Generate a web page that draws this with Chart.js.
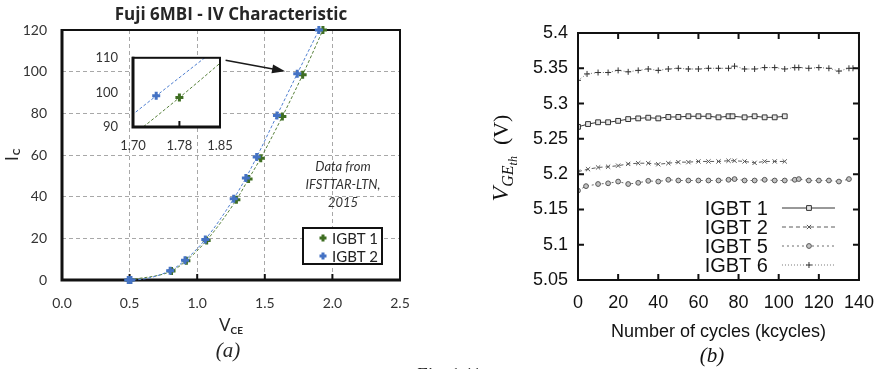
<!DOCTYPE html>
<html>
<head>
<meta charset="utf-8">
<script src="https://cdn.jsdelivr.net/npm/chart.js@4.4.1/dist/chart.umd.min.js"></script>
<style>
  html, body { margin: 0; padding: 0; background: #fff; }
  #page { position: relative; width: 886px; height: 369px; overflow: hidden; }
  canvas { position: absolute; }
  #ivChart { left: 0; top: 0; }
  #vthChart { left: 440px; top: 0; }
  #ivInset { left: 95px; top: 35px; }
  #figNote { position: absolute; left: 416px; top: 366px; font: italic 18px 'Liberation Serif', serif; line-height: 1; color: #222; }
</style>
</head>
<body>
<div id="page">
  <canvas id="ivChart" width="440" height="369"></canvas>
  <canvas id="vthChart" width="446" height="369"></canvas>
  <canvas id="ivInset" width="150" height="125"></canvas>
  <div id="figNote">Fig. 1.11</div>
</div>
<script>
// (a) Fuji 6MBI IV characteristic
const ivLabels = ['IGBT 1', 'IGBT 2'];
const ivVoltage1 = [0.50, 0.81, 0.92, 1.07, 1.29, 1.38, 1.47, 1.63, 1.78, 1.93];
const ivCurrent1 = [0, 4.3, 9.3, 19, 38.5, 48.5, 58.5, 78.5, 98.5, 120];
const ivVoltage2 = [0.49, 0.51, 0.80, 0.91, 1.06, 1.27, 1.36, 1.44, 1.59, 1.74, 1.90];
const ivCurrent2 = [0, 0, 4.5, 9.5, 19.5, 39, 49, 59, 79, 99, 120];
const insetTicksX = [1.70, 1.78, 1.85];
const insetTicksY = [90, 100, 110];
const noteLines = ['Data from', 'IFSTTAR-LTN,', '2015'];

// (b) threshold voltage vs cycles
const vthLabels = ['IGBT 1', 'IGBT 2', 'IGBT 5', 'IGBT 6'];
const cycles1 = [0, 5, 10, 15, 20, 25, 30, 35, 40, 45, 50, 55, 60, 65, 70, 75, 77, 83, 88, 93, 98, 103];
const vth1 = [5.267, 5.271, 5.2735, 5.2735, 5.2755, 5.278, 5.279, 5.280, 5.279, 5.281, 5.281, 5.282, 5.282, 5.282, 5.2805, 5.282, 5.282, 5.2805, 5.282, 5.2805, 5.2805, 5.282];
const cycles2 = [0, 5, 10, 15, 20, 25, 30, 35, 40, 45, 50, 55, 60, 65, 70, 75, 78, 83, 88, 93, 98, 103];
const vth2 = [5.2035, 5.207, 5.2095, 5.2105, 5.212, 5.2145, 5.2155, 5.2155, 5.214, 5.2155, 5.217, 5.217, 5.218, 5.218, 5.218, 5.219, 5.219, 5.218, 5.216, 5.218, 5.218, 5.218];
const cycles5 = [0, 4, 10, 15, 20, 25, 30, 35, 40, 45, 50, 55, 60, 65, 70, 75, 78, 83, 88, 93, 98, 103, 108, 110, 115, 120, 125, 130, 135];
const vth5 = [5.1767, 5.183, 5.186, 5.187, 5.1895, 5.186, 5.1877, 5.1905, 5.1895, 5.192, 5.191, 5.191, 5.191, 5.191, 5.191, 5.192, 5.193, 5.191, 5.191, 5.192, 5.191, 5.191, 5.192, 5.193, 5.191, 5.191, 5.191, 5.1895, 5.193];
const cycles6 = [0, 4.5, 10, 15, 20, 25, 30, 35, 40, 45, 50, 55, 60, 65, 70, 75, 78, 83, 88, 93, 98, 103, 108, 110, 115, 120, 125, 130, 135, 137];
const vth6 = [5.333, 5.342, 5.344, 5.344, 5.347, 5.345, 5.347, 5.349, 5.347, 5.349, 5.350, 5.349, 5.349, 5.350, 5.350, 5.350, 5.353, 5.349, 5.349, 5.351, 5.351, 5.349, 5.351, 5.351, 5.350, 5.351, 5.350, 5.346, 5.350, 5.350];

const pts = (xs, ys) => xs.map((x, i) => ({ x: x, y: ys[i] }));
const ivGreen = '#3f6e22', ivBlue = '#4472c4';
const lato = 'Lato, "Open Sans", sans-serif';
const serif = '"Liberation Serif", "DejaVu Serif", serif';
const sans = '"Liberation Sans", Arial, sans-serif';

function drawMark(ctx, style, x, y, r) {
    ctx.beginPath();
    if (style === 'rect') {
        const s = r * Math.SQRT1_2;
        ctx.rect(x - s, y - s, 2 * s, 2 * s);
        ctx.fill(); ctx.stroke();
    } else if (style === 'circle') {
        ctx.arc(x, y, r, 0, Math.PI * 2);
        ctx.fill(); ctx.stroke();
    } else if (style === 'cross') {
        ctx.moveTo(x - r, y); ctx.lineTo(x + r, y);
        ctx.moveTo(x, y - r); ctx.lineTo(x, y + r);
        ctx.stroke();
    } else {
        const d = r * Math.SQRT1_2;
        ctx.moveTo(x - d, y - d); ctx.lineTo(x + d, y + d);
        ctx.moveTo(x - d, y + d); ctx.lineTo(x + d, y - d);
        ctx.stroke();
    }
}

function ivDatasets(clip) {
    return [
        { label: ivLabels[0], data: pts(ivVoltage1, ivCurrent1), order: 1, clip: clip,
          borderColor: '#557f38', borderWidth: 1, borderDash: [3, 2], cubicInterpolationMode: 'monotone',
          pointStyle: 'cross', pointRadius: 4, pointBorderWidth: 3, pointBorderColor: ivGreen },
        { label: ivLabels[1], data: pts(ivVoltage2, ivCurrent2), order: 0, clip: clip,
          borderColor: '#4f7fd0', borderWidth: 1, borderDash: [3, 2], cubicInterpolationMode: 'monotone',
          pointStyle: 'cross', pointRadius: 4, pointBorderWidth: 3, pointBorderColor: ivBlue }
    ];
}

const ivDecor = {
    id: 'ivDecor',
    beforeDatasetsDraw(chart) {
        const { ctx, chartArea: a, scales: { x } } = chart;
        ctx.save();
        ctx.strokeStyle = '#111';
        ctx.lineWidth = 2;
        ctx.strokeRect(a.left, a.top, a.right - a.left, a.bottom - a.top);
        ctx.lineWidth = 3;
        ctx.beginPath();
        ctx.moveTo(a.left, a.top - 1); ctx.lineTo(a.left, a.bottom); ctx.lineTo(a.right + 1, a.bottom);
        ctx.stroke();
        ctx.lineWidth = 2;
        x.ticks.forEach(t => {
            const px = x.getPixelForValue(t.value);
            ctx.beginPath(); ctx.moveTo(px, a.bottom); ctx.lineTo(px, a.bottom - 6); ctx.stroke();
        });
        ctx.restore();
    },
    afterDraw(chart) {
        const { ctx, chartArea: a, scales: { x, y } } = chart;
        ctx.save();
        ctx.fillStyle = '#262626';
        ctx.textAlign = 'center';
        ctx.textBaseline = 'middle';
        ctx.font = 'bold 17px "Open Sans", Lato, sans-serif';
        ctx.fillText('Fuji 6MBI - IV Characteristic', (a.left + a.right) / 2, 15);

        // V_CE
        ctx.textAlign = 'left';
        ctx.font = '17px ' + lato;
        const wV = ctx.measureText('V').width;
        ctx.font = 'bold 10px ' + lato;
        const wCE = ctx.measureText('CE').width;
        let sx = (a.left + a.right) / 2 - (wV + wCE) / 2;
        ctx.font = '17px ' + lato;
        ctx.fillText('V', sx, 326);
        ctx.font = 'bold 10px ' + lato;
        ctx.fillText('CE', sx + wV, 331);

        // I_C
        ctx.save();
        ctx.translate(13, 155);
        ctx.rotate(-Math.PI / 2);
        ctx.font = '17px ' + lato;
        const wI = ctx.measureText('I').width;
        ctx.fillText('I', -6, 0);
        ctx.font = 'bold 10px ' + lato;
        ctx.fillText('C', -6 + wI + 1, 4);
        ctx.restore();

        ctx.textAlign = 'center';
        ctx.font = 'italic 21px ' + serif;
        ctx.fillText('(a)', 228, 351);

        // note
        ctx.font = 'italic 13px ' + lato;
        ctx.fillStyle = '#333';
        noteLines.forEach((t, i) => ctx.fillText(t, a.right - 57, 167 + i * 18));

        // arrow towards the zoomed region
        const x0 = x.getPixelForValue(1.21), y0 = y.getPixelForValue(105.5);
        const x1 = x.getPixelForValue(1.65), y1 = y.getPixelForValue(100.2);
        const ang = Math.atan2(y1 - y0, x1 - x0);
        ctx.strokeStyle = '#1a1a1a'; ctx.fillStyle = '#1a1a1a';
        ctx.lineWidth = 1.6;
        ctx.beginPath(); ctx.moveTo(x0, y0);
        ctx.lineTo(x1 - 11 * Math.cos(ang), y1 - 11 * Math.sin(ang)); ctx.stroke();
        ctx.beginPath();
        ctx.moveTo(x1, y1);
        ctx.lineTo(x1 - 13 * Math.cos(ang) + 4.5 * Math.sin(ang), y1 - 13 * Math.sin(ang) - 4.5 * Math.cos(ang));
        ctx.lineTo(x1 - 13 * Math.cos(ang) - 4.5 * Math.sin(ang), y1 - 13 * Math.sin(ang) + 4.5 * Math.cos(ang));
        ctx.closePath(); ctx.fill();

        // legend box
        const bx = a.right - 97, by = a.bottom - 52, bw = 79, bh = 36;
        ctx.fillStyle = '#fff';
        ctx.fillRect(bx, by, bw, bh);
        ctx.strokeStyle = '#111'; ctx.lineWidth = 2;
        ctx.strokeRect(bx, by, bw, bh);
        const cols = [ivGreen, ivBlue];
        ctx.textAlign = 'left';
        ctx.font = '15px ' + lato;
        ivLabels.forEach((lab, i) => {
            const ly = by + 10 + i * 18;
            ctx.strokeStyle = cols[i]; ctx.lineWidth = 3;
            drawMark(ctx, 'cross', bx + 20, ly, 3.5);
            ctx.fillStyle = '#222';
            ctx.fillText(lab, bx + 29, ly + 1);
        });
        ctx.restore();
    }
};

const insetDecor = {
    id: 'insetDecor',
    beforeDatasetsDraw(chart) {
        const { ctx, chartArea: a } = chart;
        ctx.save();
        ctx.fillStyle = '#fff';
        ctx.fillRect(a.left, a.top, a.right - a.left, a.bottom - a.top);
        ctx.restore();
    },
    afterDatasetsDraw(chart) {
        const { ctx, chartArea: a, scales: { x } } = chart;
        ctx.save();
        ctx.strokeStyle = '#111';
        ctx.lineWidth = 2;
        ctx.strokeRect(a.left, a.top, a.right - a.left, a.bottom - a.top);
        ctx.lineWidth = 3;
        ctx.beginPath();
        ctx.moveTo(a.left, a.top - 1); ctx.lineTo(a.left, a.bottom); ctx.lineTo(a.right + 1, a.bottom);
        ctx.stroke();
        ctx.lineWidth = 2;
        x.ticks.forEach(t => {
            const px = x.getPixelForValue(t.value);
            ctx.beginPath(); ctx.moveTo(px, a.bottom); ctx.lineTo(px, a.bottom - 6); ctx.stroke();
        });
        ctx.restore();
    }
};

const vthStyles = [
    { color: '#333', dash: [], point: 'rect', r: 3.4, fill: '#e6e6e6', mark: '#333' },
    { color: '#5a5a5a', dash: [4, 3], point: 'crossRot', r: 3, fill: '#555', mark: '#555' },
    { color: '#6a6a6a', dash: [2, 3], point: 'circle', r: 2.4, fill: '#c4c4c4', mark: '#555' },
    { color: '#777', dash: [1, 2], point: 'cross', r: 3, fill: '#333', mark: '#333' }
];

const vthDecor = {
    id: 'vthDecor',
    afterDatasetsDraw(chart) {
        const { ctx, chartArea: a, scales: { x, y } } = chart;
        ctx.save();
        ctx.strokeStyle = '#111';
        ctx.lineWidth = 2;
        ctx.strokeRect(a.left, a.top, a.right - a.left, a.bottom - a.top);
        x.ticks.forEach(t => {
            const px = x.getPixelForValue(t.value);
            ctx.beginPath();
            ctx.moveTo(px, a.bottom); ctx.lineTo(px, a.bottom - 6);
            ctx.moveTo(px, a.top); ctx.lineTo(px, a.top + 6);
            ctx.stroke();
        });
        y.ticks.forEach(t => {
            const py = y.getPixelForValue(t.value);
            ctx.beginPath();
            ctx.moveTo(a.left, py); ctx.lineTo(a.left + 6, py);
            ctx.moveTo(a.right, py); ctx.lineTo(a.right - 6, py);
            ctx.stroke();
        });
        ctx.restore();
    },
    afterDraw(chart) {
        const { ctx, chartArea: a } = chart;
        ctx.save();
        ctx.fillStyle = '#111';
        ctx.textBaseline = 'middle';
        ctx.textAlign = 'center';
        ctx.font = '18px ' + sans;
        ctx.fillText('Number of cycles (kcycles)', (a.left + a.right) / 2, 332);
        ctx.font = 'italic 21px ' + serif;
        ctx.fillText('(b)', 272, 356);

        // y title: V_GEth (V)
        const parts = [
            { t: 'V', f: 'italic 24px ' + serif, dy: 0 },
            { t: 'GE', f: 'italic 16px ' + serif, dy: 5 },
            { t: 'th', f: 'italic 12px ' + serif, dy: 9 },
            { t: '  (V)', f: '22px ' + serif, dy: 0 }
        ];
        let total = 0;
        parts.forEach(p => { ctx.font = p.f; p.w = ctx.measureText(p.t).width; total += p.w; });
        ctx.save();
        ctx.translate(61, 158);
        ctx.rotate(-Math.PI / 2);
        ctx.textAlign = 'left';
        ctx.textBaseline = 'alphabetic';
        let px = -total / 2;
        parts.forEach(p => { ctx.font = p.f; ctx.fillText(p.t, px, 7 + p.dy); px += p.w; });
        ctx.restore();

        // legend
        ctx.textAlign = 'right';
        ctx.font = '20px ' + sans;
        vthLabels.forEach((lab, i) => {
            const ly = a.bottom - 72 + i * 19;
            const s = vthStyles[i];
            ctx.fillStyle = '#111';
            ctx.fillText(lab, a.right - 91, ly + 1);
            ctx.strokeStyle = s.color; ctx.lineWidth = 1;
            ctx.setLineDash(s.dash);
            ctx.beginPath(); ctx.moveTo(a.right - 77, ly); ctx.lineTo(a.right - 24, ly); ctx.stroke();
            ctx.setLineDash([]);
            ctx.strokeStyle = s.mark; ctx.fillStyle = s.fill;
            drawMark(ctx, s.point, a.right - 50, ly, s.r);
        });
        ctx.restore();
    }
};

const vthSeries = [[cycles1, vth1], [cycles2, vth2], [cycles5, vth5], [cycles6, vth6]];

document.addEventListener('DOMContentLoaded', function () {
    const gridOpts = { color: '#a8a8a8', lineWidth: 1, drawTicks: false };
    const tickFont = { family: lato, size: 14 };

    new Chart(document.getElementById('ivChart'), {
        type: 'line',
        data: { datasets: ivDatasets(8) },
        options: {
            responsive: false, animation: false, events: [],
            layout: { padding: { top: 30, right: 40, left: 0, bottom: 0 } },
            plugins: { legend: { display: false }, tooltip: { enabled: false } },
            scales: {
                x: {
                    type: 'linear', min: 0, max: 2.5,
                    afterFit: s => { s.height = 89; },
                    ticks: { stepSize: 0.5, padding: 15, color: '#333', font: tickFont, callback: v => v.toFixed(1) },
                    grid: gridOpts, border: { display: false, dash: [4, 3] }
                },
                y: {
                    min: 0, max: 120,
                    afterFit: s => { s.width = 62; },
                    ticks: { stepSize: 20, padding: 15, color: '#333', font: tickFont },
                    grid: gridOpts, border: { display: false, dash: [4, 3] }
                }
            }
        },
        plugins: [ivDecor]
    });

    new Chart(document.getElementById('ivInset'), {
        type: 'line',
        data: { datasets: ivDatasets(0) },
        options: {
            responsive: false, animation: false, events: [],
            layout: { padding: { top: 12, right: 25, left: 0, bottom: 0 } },
            plugins: { legend: { display: false }, tooltip: { enabled: false } },
            scales: {
                x: {
                    type: 'linear', min: 1.70, max: 1.85,
                    afterFit: s => { s.height = 33; },
                    afterBuildTicks: s => { s.ticks = insetTicksX.map(v => ({ value: v })); },
                    ticks: { padding: 11, color: '#333', font: { family: lato, size: 13 }, callback: v => v.toFixed(2) },
                    grid: { display: false, drawTicks: false }, border: { display: false }
                },
                y: {
                    min: 90, max: 110,
                    afterFit: s => { s.width = 38; },
                    afterBuildTicks: s => { s.ticks = insetTicksY.map(v => ({ value: v })); },
                    ticks: { padding: 15, color: '#333', font: { family: lato, size: 13 } },
                    grid: { display: false, drawTicks: false }, border: { display: false }
                }
            }
        },
        plugins: [insetDecor]
    });

    new Chart(document.getElementById('vthChart'), {
        type: 'line',
        data: {
            datasets: vthSeries.map((s, i) => ({
                label: vthLabels[i],
                data: pts(s[0], s[1]),
                borderColor: vthStyles[i].color,
                borderWidth: 1,
                borderDash: vthStyles[i].dash,
                pointStyle: vthStyles[i].point,
                pointRadius: vthStyles[i].r,
                pointBorderWidth: 1,
                pointBorderColor: vthStyles[i].mark,
                pointBackgroundColor: vthStyles[i].fill
            }))
        },
        options: {
            responsive: false, animation: false, events: [],
            layout: { padding: { top: 33, right: 22, left: 0, bottom: 0 } },
            plugins: { legend: { display: false }, tooltip: { enabled: false } },
            scales: {
                x: {
                    type: 'linear', min: 0, max: 140,
                    afterFit: s => { s.height = 89; },
                    ticks: { stepSize: 20, padding: 12, color: '#111', font: { family: sans, size: 18 } },
                    grid: { display: false, drawTicks: false }, border: { display: false }
                },
                y: {
                    min: 5.05, max: 5.4,
                    afterFit: s => { s.width = 138; },
                    ticks: { stepSize: 0.05, padding: 10, color: '#111', font: { family: sans, size: 18 },
                             callback: v => String(+v.toFixed(2)) },
                    grid: { display: false, drawTicks: false }, border: { display: false }
                }
            }
        },
        plugins: [vthDecor]
    });
});
</script>
</body>
</html>
